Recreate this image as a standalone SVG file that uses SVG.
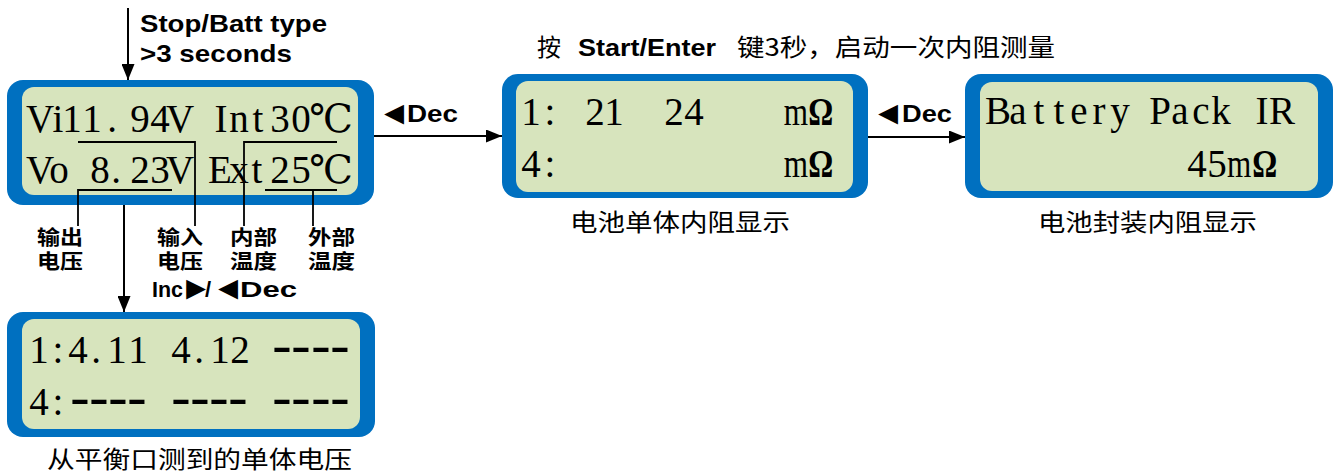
<svg xmlns="http://www.w3.org/2000/svg" width="1338" height="474" viewBox="0 0 1338 474">
<style>
.outer{fill:#0070C0}
.inner{fill:#D7E4BD}
.lcd{font-family:"Liberation Serif","DejaVu Serif","Noto Sans CJK SC",serif;font-size:39px;fill:#000;text-anchor:middle}
.om{font-weight:bold}
.dash{font-size:58px}
.bs{font-family:"Liberation Sans",Arial,sans-serif;font-weight:bold;fill:#000}
.tri{font-size:33px;text-anchor:middle}
.cap{font-family:"Noto Sans CJK SC","Liberation Sans",sans-serif;font-size:24px;fill:#000}
.lbl{font-family:"Noto Sans CJK SC","Liberation Sans",sans-serif;font-size:20px;font-weight:bold;fill:#000}
.ln{fill:none;stroke:#000;stroke-width:1.8}
.ar{fill:none;stroke:#000;stroke-width:2;marker-end:url(#ah)}
</style>
<defs>
<marker id="ah" viewBox="0 0 16 13" refX="16" refY="6.5" markerWidth="16" markerHeight="13" markerUnits="userSpaceOnUse" orient="auto">
<path d="M0,0 L16,6.5 L0,13 z" fill="#000"/>
</marker>
</defs>

<g id="node-main">
<rect class="outer" x="7" y="80" width="367" height="125" rx="16"/>
<rect class="inner" x="22" y="87" width="336" height="108" rx="12"/>
<text class="lcd" y="132" x="40 58 72 92 112 140 160 180 199 221 239 258 280 301 331">Vi11.94V Int30℃</text>
<text class="lcd" y="183" x="40 59 79 100 116 140 160 180 199 220 239 257 280 301 331">Vo 8.23V Ext25℃</text>
</g>

<g id="node-cells">
<rect class="outer" x="7" y="312" width="368" height="125" rx="16"/>
<rect class="inner" x="22" y="319" width="338" height="110" rx="12"/>
<text class="lcd" y="363" x="39 58 78 96 117 138 160 181 199 220 240 260">1:4.11 4.12 <tspan class="dash" x="282 301 321 340">----</tspan></text>
<text class="lcd" y="415" x="39 58">4:<tspan class="dash" x="80 99 118 137 160 181 200 219 238 260 282 301 321 340">---- ---- ----</tspan></text>
<text class="cap" x="47" y="468" textLength="305" lengthAdjust="spacingAndGlyphs">从平衡口测到的单体电压</text>
</g>

<g id="node-cell-ir">
<rect class="outer" x="502" y="74" width="366" height="124" rx="16"/>
<rect class="inner" x="516" y="81" width="337" height="111" rx="12"/>
<text class="lcd" y="125" x="531 550 570 595 614 650 674 694">1: 21 24</text>
<text class="lcd" y="125" transform="matrix(0.8 0 0 1 0 0)" x="995">m<tspan class="om" x="1026">Ω</tspan></text>
<text class="lcd" y="177" x="531 550">4:</text>
<text class="lcd" y="177" transform="matrix(0.8 0 0 1 0 0)" x="995">m<tspan class="om" x="1026">Ω</tspan></text>
<text class="cap" x="570" y="231" textLength="220" lengthAdjust="spacingAndGlyphs">电池单体内阻显示</text>
</g>

<g id="node-pack-ir">
<rect class="outer" x="965" y="74" width="368" height="124" rx="16"/>
<rect class="inner" x="980" y="82" width="338" height="109" rx="12"/>
<text class="lcd" y="124" x="998 1018 1039 1059 1079 1099 1120 1140 1160 1180 1201 1221 1241 1262 1282">Battery Pack IR</text>
<text class="lcd" y="177" x="1197 1217">45</text>
<text class="lcd" y="177" transform="matrix(0.8 0 0 1 0 0)" x="1549">m<tspan class="om" x="1581">Ω</tspan></text>
<text class="cap" x="1038" y="231" textLength="219" lengthAdjust="spacingAndGlyphs">电池封装内阻显示</text>
</g>

<g id="labels">
<text class="bs" x="140" y="32" font-size="24" textLength="187" lengthAdjust="spacingAndGlyphs">Stop/Batt type</text>
<text class="bs" x="140" y="62" font-size="24" textLength="152" lengthAdjust="spacingAndGlyphs">&gt;3 seconds</text>
<text class="bs" y="297" font-size="22"><tspan x="152" textLength="31" lengthAdjust="spacingAndGlyphs">Inc</tspan><tspan class="tri" x="196" y="299">►</tspan><tspan x="205" y="297">/</tspan><tspan class="tri" x="228" y="299">◄</tspan><tspan x="240" y="297" textLength="57" lengthAdjust="spacingAndGlyphs">Dec</tspan></text>
<text class="bs" y="122" font-size="23"><tspan class="tri" x="394" y="124">◄</tspan><tspan x="407" y="122" textLength="51" lengthAdjust="spacingAndGlyphs">Dec</tspan></text>
<text class="bs" y="122" font-size="23"><tspan class="tri" x="888" y="124">◄</tspan><tspan x="902" y="122" textLength="50" lengthAdjust="spacingAndGlyphs">Dec</tspan></text>
<text class="cap" y="56"><tspan x="537">按</tspan> <tspan class="bs" x="578" textLength="138" lengthAdjust="spacingAndGlyphs">Start/Enter</tspan> <tspan x="737" textLength="318" lengthAdjust="spacingAndGlyphs">键3秒，启动一次内阻测量</tspan></text>
<text class="lbl" x="37" y="245" textLength="46" lengthAdjust="spacingAndGlyphs">输出</text>
<text class="lbl" x="37" y="269" textLength="46" lengthAdjust="spacingAndGlyphs">电压</text>
<text class="lbl" x="157" y="245" textLength="46" lengthAdjust="spacingAndGlyphs">输入</text>
<text class="lbl" x="157" y="269" textLength="46" lengthAdjust="spacingAndGlyphs">电压</text>
<text class="lbl" x="230" y="245" textLength="47" lengthAdjust="spacingAndGlyphs">内部</text>
<text class="lbl" x="230" y="269" textLength="47" lengthAdjust="spacingAndGlyphs">温度</text>
<text class="lbl" x="308" y="245" textLength="47" lengthAdjust="spacingAndGlyphs">外部</text>
<text class="lbl" x="308" y="269" textLength="47" lengthAdjust="spacingAndGlyphs">温度</text>
</g>

<g id="connectors">
<line class="ar" x1="128" y1="8" x2="128" y2="80"/>
<line class="ar" x1="124" y1="205" x2="124" y2="312"/>
<line class="ar" x1="374" y1="136" x2="502" y2="136"/>
<line class="ar" x1="868" y1="137" x2="965" y2="137"/>
<path class="ln" d="M78,142 H195 V226"/>
<path class="ln" d="M172,190 H78 V226"/>
<path class="ln" d="M337,142 H244 V226"/>
<path class="ln" d="M265,190 H337 M313,190 V226"/>
</g>
</svg>
